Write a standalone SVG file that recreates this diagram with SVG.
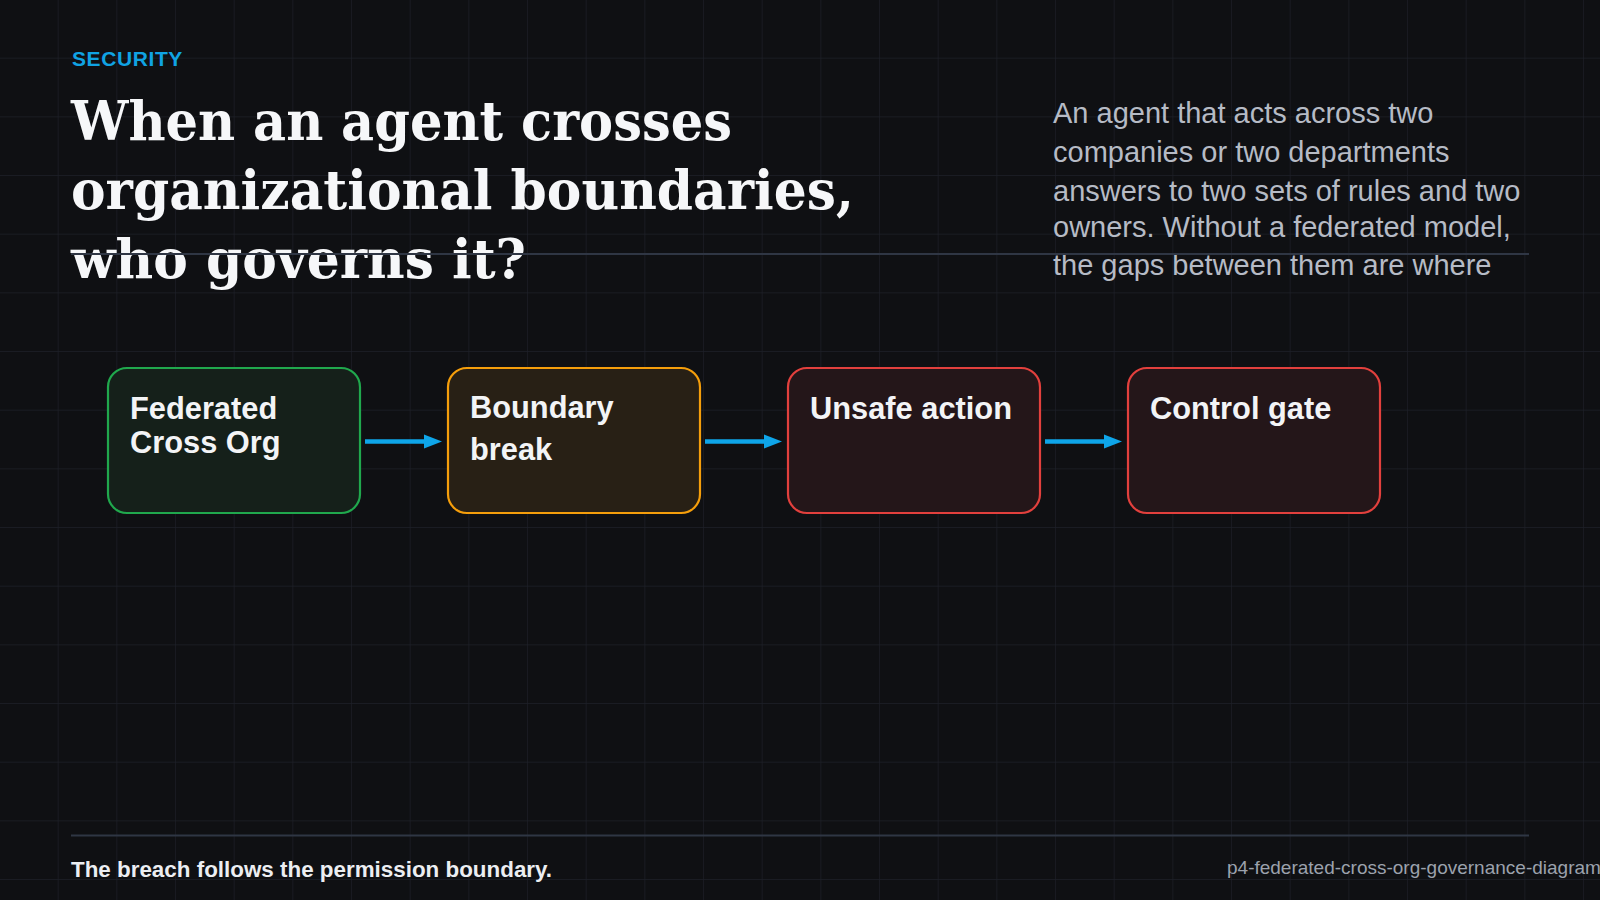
<svg xmlns="http://www.w3.org/2000/svg" width="1600" height="900" viewBox="0 0 1600 900">
  <defs>
    <pattern id="grid" x="0" y="0" width="58.667" height="58.667" patternUnits="userSpaceOnUse">
      <path d="M58.667 0 V58.667 M0 58.667 H58.667" fill="none" stroke="#1d2028" stroke-width="1.3"/>
    </pattern>
    <style>
      .eyebrow { font-family: "Liberation Sans", Arial, sans-serif; font-weight: 700; font-size: 21px; letter-spacing: 0.6px; fill: #10a3e3; }
      .title { font-family: "DejaVu Serif", "Liberation Serif", serif; font-weight: 700; font-size: 54px; fill: #f6f7f9; }
      .para { font-family: "Liberation Sans", Arial, sans-serif; font-size: 29px; fill: #b6bbc5; }
      .rule { stroke: #2f3644; stroke-width: 2; }
      .node-label { font-family: "Liberation Sans", Arial, sans-serif; font-weight: 700; font-size: 30.8px; fill: #f3f4f6; }
      .green { fill: #15201a; stroke: #20a84d; stroke-width: 2.2; }
      .amber { fill: #282015; stroke: #f59e0b; stroke-width: 2.2; }
      .red { fill: #241619; stroke: #e2403d; stroke-width: 2.2; }
      .conn { stroke: #0ea5e9; stroke-width: 4.5; fill: none; }
      .head { fill: #0ea5e9; }
      .footer { font-family: "Liberation Sans", Arial, sans-serif; font-weight: 700; font-size: 22.4px; fill: #eceef2; }
      .slug { font-family: "Liberation Sans", Arial, sans-serif; font-size: 19px; fill: #9ca2ad; }
    </style>
  </defs>

  <rect x="0" y="0" width="1600" height="900" fill="#0f1013"/>
  <rect x="0" y="0" width="1600" height="900" fill="url(#grid)"/>

  <g id="header">
    <text class="eyebrow" x="72" y="66">SECURITY</text>
    <text class="title" x="71" y="140" textLength="661" lengthAdjust="spacingAndGlyphs">When an agent crosses</text>
    <text class="title" x="71" y="209" textLength="783" lengthAdjust="spacingAndGlyphs">organizational boundaries,</text>
    <text class="title" x="71" y="278" textLength="455" lengthAdjust="spacingAndGlyphs">who governs it?</text>
    <text class="para" x="1053" y="123">An agent that acts across two</text>
    <text class="para" x="1053" y="162">companies or two departments</text>
    <text class="para" x="1053" y="201">answers to two sets of rules and two</text>
    <text class="para" x="1053" y="236.5">owners. Without a federated model,</text>
    <text class="para" x="1053" y="275">the gaps between them are where</text>
    <line class="rule" x1="71" y1="254" x2="1529" y2="254"/>
  </g>

  <g id="connectors">
    <line class="conn" x1="365" y1="441.5" x2="430" y2="441.5"/>
    <polygon class="head" points="424,434.5 442,441.5 424,448.5"/>
    <line class="conn" x1="705" y1="441.5" x2="770" y2="441.5"/>
    <polygon class="head" points="764,434.5 782,441.5 764,448.5"/>
    <line class="conn" x1="1045" y1="441.5" x2="1110" y2="441.5"/>
    <polygon class="head" points="1104,434.5 1122,441.5 1104,448.5"/>
  </g>

  <g id="node-federated">
    <rect class="green" x="108" y="368" width="252" height="145" rx="19"/>
    <text class="node-label" x="130" y="418.5">Federated</text>
    <text class="node-label" x="130" y="453">Cross Org</text>
  </g>
  <g id="node-boundary">
    <rect class="amber" x="448" y="368" width="252" height="145" rx="19"/>
    <text class="node-label" x="470" y="418">Boundary</text>
    <text class="node-label" x="470" y="460">break</text>
  </g>
  <g id="node-unsafe">
    <rect class="red" x="788" y="368" width="252" height="145" rx="19"/>
    <text class="node-label" x="810" y="418.5">Unsafe action</text>
  </g>
  <g id="node-control">
    <rect class="red" x="1128" y="368" width="252" height="145" rx="19"/>
    <text class="node-label" x="1150" y="418.5">Control gate</text>
  </g>

  <g id="footer">
    <line class="rule" x1="71" y1="835.5" x2="1529" y2="835.5"/>
    <text class="footer" x="71" y="877">The breach follows the permission boundary.</text>
    <text class="slug" x="1227" y="873.5">p4-federated-cross-org-governance-diagram</text>
  </g>
</svg>
